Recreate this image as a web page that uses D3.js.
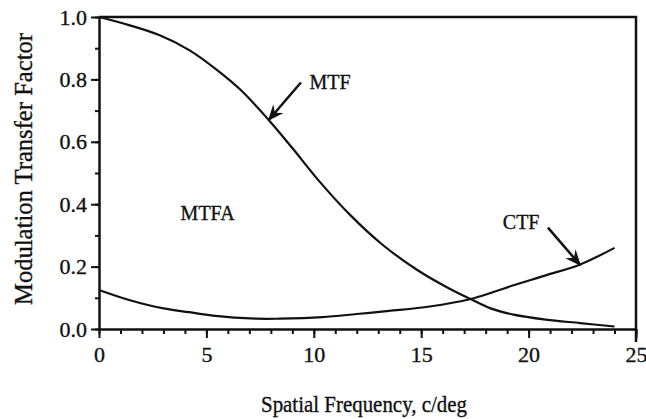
<!DOCTYPE html>
<html>
<head>
<meta charset="utf-8">
<script src="https://cdn.jsdelivr.net/npm/d3@7"></script>
<style>
  body { margin: 0; background: #fff; }
  svg { display: block; }
  text { font-family: "Liberation Serif", "Times New Roman", serif; fill: #111; stroke: #111; stroke-width: 0.35px; }
</style>
</head>
<body>
<script>
// values
const mtfX = [0, 1.4, 2.8, 4.2, 5.5, 6.6, 7.9, 9.0, 10.3, 11.7, 13.2, 14.8, 16.3, 17.3, 18.2, 19.3, 20.8, 22.4, 24];
const mtfY = [1.0, 0.974, 0.942, 0.894, 0.83, 0.766, 0.67, 0.58, 0.47, 0.365, 0.27, 0.19, 0.13, 0.096, 0.067, 0.046, 0.03, 0.019, 0.008];

const ctfX = [0, 1.4, 3.0, 4.2, 5.3, 7.3, 8.4, 10.4, 12, 13.5, 15.4, 17.3, 18.3, 19.3, 20.8, 22.4, 24];
const ctfY = [0.125, 0.093, 0.066, 0.054, 0.043, 0.033, 0.033, 0.038, 0.048, 0.058, 0.072, 0.096, 0.117, 0.14, 0.172, 0.207, 0.26];

const xTicks = [0, 5, 10, 15, 20, 25];
const yTicks = [0.0, 0.2, 0.4, 0.6, 0.8, 1.0];

const width = 646,
    height = 419;

const svg = d3.select('body')
    .append('svg')
    .attr('width', width)
    .attr('height', height);

const x = d3.scaleLinear().domain([0, 25]).range([99, 636]);
const y = d3.scaleLinear().domain([0, 1]).range([329, 17]);

// frame (top and right sides, no ticks)
svg.append('path')
    .attr('d', 'M' + x(0) + ',' + y(1) + 'H' + x(25) + 'V' + (y(0) + 13))
    .attr('fill', 'none')
    .attr('stroke', '#111')
    .attr('stroke-width', 2.5);

// minor ticks
svg.append('g')
    .attr('transform', 'translate(0,' + y(0) + ')')
    .call(d3.axisBottom(x).ticks(25).tickSize(5).tickFormat(''))
    .call(g => g.select('.domain').remove())
    .selectAll('line').attr('stroke', '#111').attr('stroke-width', 2);

svg.append('g')
    .attr('transform', 'translate(' + x(0) + ',0)')
    .call(d3.axisLeft(y).ticks(10).tickSize(4).tickFormat(''))
    .call(g => g.select('.domain').remove())
    .selectAll('line').attr('stroke', '#111').attr('stroke-width', 2);

// major axes
const xAxis = svg.append('g')
    .attr('transform', 'translate(0,' + y(0) + ')')
    .call(d3.axisBottom(x).tickValues(xTicks).tickSize(9).tickSizeOuter(0).tickPadding(8).tickFormat(d3.format('d')));

const yAxis = svg.append('g')
    .attr('transform', 'translate(' + x(0) + ',0)')
    .call(d3.axisLeft(y).tickValues(yTicks).tickSize(8).tickSizeOuter(0).tickPadding(4).tickFormat(d3.format('.1f')));

[xAxis, yAxis].forEach(g => {
    g.select('.domain').attr('stroke', '#111').attr('stroke-width', 2.5);
    g.selectAll('line').attr('stroke', '#111').attr('stroke-width', 2);
    g.selectAll('text')
        .attr('fill', '#111')
        .style('font-size', '22px');
});

// curves
const line = d3.line()
    .x(d => x(d[0]))
    .y(d => y(d[1]))
    .curve(d3.curveCatmullRom);

svg.append('path')
    .datum(d3.zip(mtfX, mtfY))
    .attr('d', line)
    .attr('fill', 'none')
    .attr('stroke', '#111')
    .attr('stroke-width', 2.2);

svg.append('path')
    .datum(d3.zip(ctfX, ctfY))
    .attr('d', line)
    .attr('fill', 'none')
    .attr('stroke', '#111')
    .attr('stroke-width', 2.2);

// arrows
svg.append('defs').append('marker')
    .attr('id', 'head')
    .attr('viewBox', '0 0 12 10')
    .attr('refX', 11)
    .attr('refY', 5)
    .attr('markerWidth', 6.5)
    .attr('markerHeight', 5.5)
    .attr('markerUnits', 'strokeWidth')
    .attr('orient', 'auto')
    .append('path')
    .attr('d', 'M0,0L12,5L0,10L4,5Z')
    .attr('fill', '#111');

function arrow(x1, y1, x2, y2) {
    svg.append('line')
        .attr('x1', x(x1)).attr('y1', y(y1))
        .attr('x2', x(x2)).attr('y2', y(y2))
        .attr('stroke', '#111')
        .attr('stroke-width', 2.5)
        .attr('marker-end', 'url(#head)');
}

arrow(9.4, 0.79, 7.9, 0.67);
arrow(20.9, 0.325, 22.4, 0.205);

// labels
svg.append('text').attr('x', x(9.8)).attr('y', y(0.77)).style('font-size', '20px').text('MTF');
svg.append('text').attr('x', x(3.8)).attr('y', y(0.35)).style('font-size', '20px').text('MTFA');
svg.append('text').attr('x', x(18.8)).attr('y', y(0.32)).style('font-size', '20px').text('CTF');

svg.append('text')
    .attr('x', 364)
    .attr('y', 412)
    .attr('text-anchor', 'middle')
    .attr('textLength', 206)
    .attr('lengthAdjust', 'spacingAndGlyphs')
    .style('font-size', '23px')
    .text('Spatial Frequency, c/deg');

svg.append('text')
    .attr('transform', 'translate(32,' + 169 + ') rotate(-90)')
    .attr('text-anchor', 'middle')
    .attr('textLength', 272)
    .attr('lengthAdjust', 'spacingAndGlyphs')
    .style('font-size', '25px')
    .text('Modulation Transfer Factor');
</script>
</body>
</html>
